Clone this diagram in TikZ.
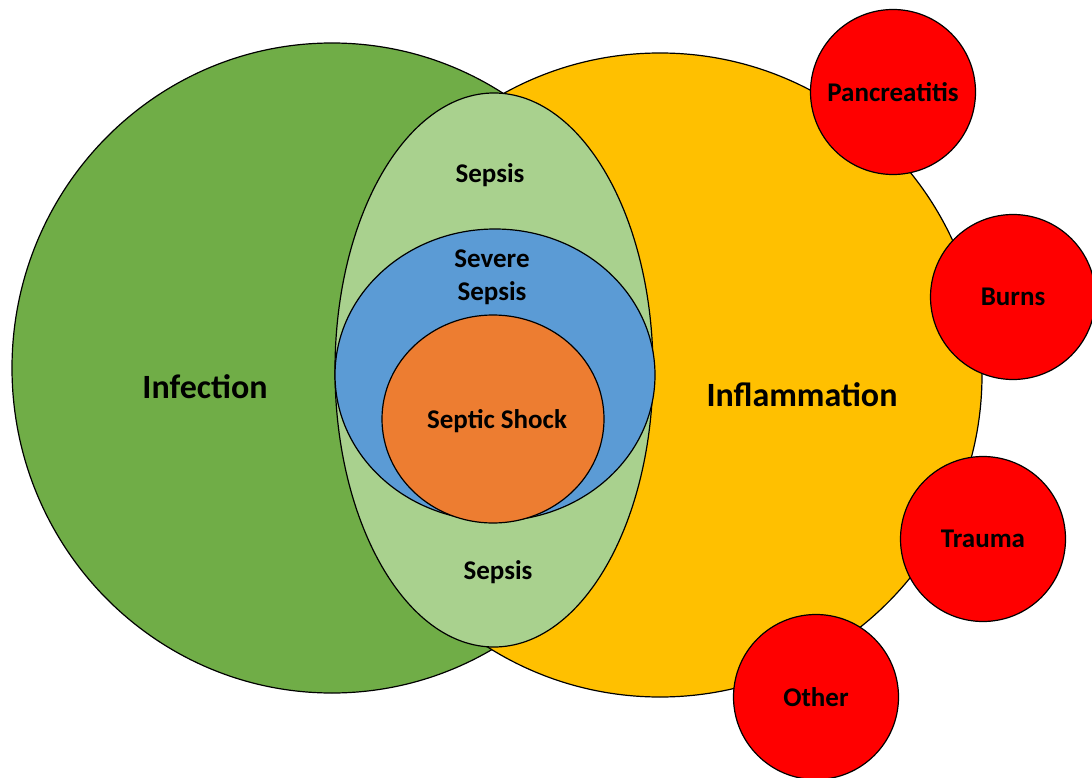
\documentclass[tikz,border=0pt]{standalone}
\usepackage{fontspec}
\setmainfont{Carlito}
\usetikzlibrary{shapes.geometric}
\definecolor{infgreen}{HTML}{70AD47}
\definecolor{inflyellow}{HTML}{FFC000}
\definecolor{sepsisgreen}{HTML}{A9D18E}
\definecolor{severeblue}{HTML}{5B9BD5}
\definecolor{shockorange}{HTML}{ED7D31}
\definecolor{causered}{HTML}{FF0000}
\begin{document}
\begin{tikzpicture}[x=1pt,y=-1pt,
  region/.style={draw=black, line width=1.2pt},
  smalltext/.style={font=\fontsize{27}{33}\selectfont\bfseries, align=center, inner sep=0pt},
  bigtext/.style={font=\fontsize{34}{40}\selectfont\bfseries, inner sep=0pt},
  cause/.style={circle, draw=black, line width=1.2pt, fill=causered,
    minimum size=165pt, inner sep=0pt, font=\fontsize{27}{33}\selectfont\bfseries}]
\useasboundingbox (0,0) rectangle (1092,778);

% the two overlapping domains
\draw[region, fill=infgreen] (332,368) ellipse [x radius=320pt, y radius=325pt];
\draw[region, fill=inflyellow] (660,375) circle [radius=322pt];

% nested sepsis stages
\draw[region, fill=sepsisgreen] (494,370) ellipse [x radius=159pt, y radius=277pt];
\draw[region, fill=severeblue] (495,375) ellipse [x radius=160pt, y radius=146pt];
\draw[region, fill=shockorange] (493,419) ellipse [x radius=111pt, y radius=104pt];

% labels
\node[bigtext] (infection) at (205,387) {Infection};
\node[bigtext] (inflammation) at (802,395) {Inflammation};
\node[smalltext] (sepsistop) at (490,175) {Sepsis};
\node[smalltext] (severe) at (492,277) {Severe\\Sepsis};
\node[smalltext] (shock) at (497,421) {Septic Shock};
\node[smalltext] (sepsisbottom) at (498,572) {Sepsis};

% non-infectious causes of inflammation
\node[cause] (pancreatitis) at (893,92) {Pancreatitis};
\node[cause] (burns) at (1013,297) {Burns};
\node[cause] (trauma) at (983,539) {Trauma};
\node[cause] (other) at (816,697) {Other};
\end{tikzpicture}
\end{document}
